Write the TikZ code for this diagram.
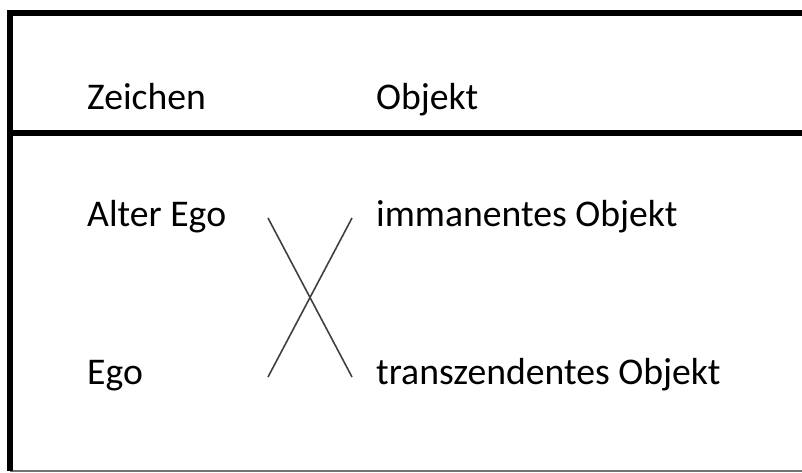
\documentclass[tikz,border=0pt]{standalone}
\usepackage{fontspec}
\setmainfont{Carlito}
\begin{document}
\begin{tikzpicture}[x=1pt,y=-1pt,
  lbl/.style={anchor=base west,inner sep=0pt,font=\fontsize{37.7}{44}\selectfont},
  frame/.style={line width=5.5pt,black},
  crossline/.style={line width=1.6pt,draw=black!75}]
\useasboundingbox (0,0) rectangle (802,473);
% frame
\draw[draw=black!55,line width=1.8pt] (10,471) -- (802,471);
\draw[frame] (10,471) -- (10,13) -- (802,13);
\draw[frame] (7.25,133) -- (802,133);
% texts
\node[lbl] (zeichen) at (87,110) {Zeichen};
\node[lbl] (objekt) at (376,110) {Objekt};
\node[lbl] (alter) at (87,226) {Alter Ego};
\node[lbl] (imm) at (376,226) {immanentes Objekt};
\node[lbl] (ego) at (87,384) {Ego};
\node[lbl] (trans) at (376,384) {transzendentes Objekt};
% cross
\coordinate (a1) at (268,218);
\coordinate (a2) at (352,377);
\coordinate (b1) at (352,218);
\coordinate (b2) at (268,377);
\draw[crossline] (a1) -- (a2);
\draw[crossline] (b1) -- (b2);
\end{tikzpicture}
\end{document}
